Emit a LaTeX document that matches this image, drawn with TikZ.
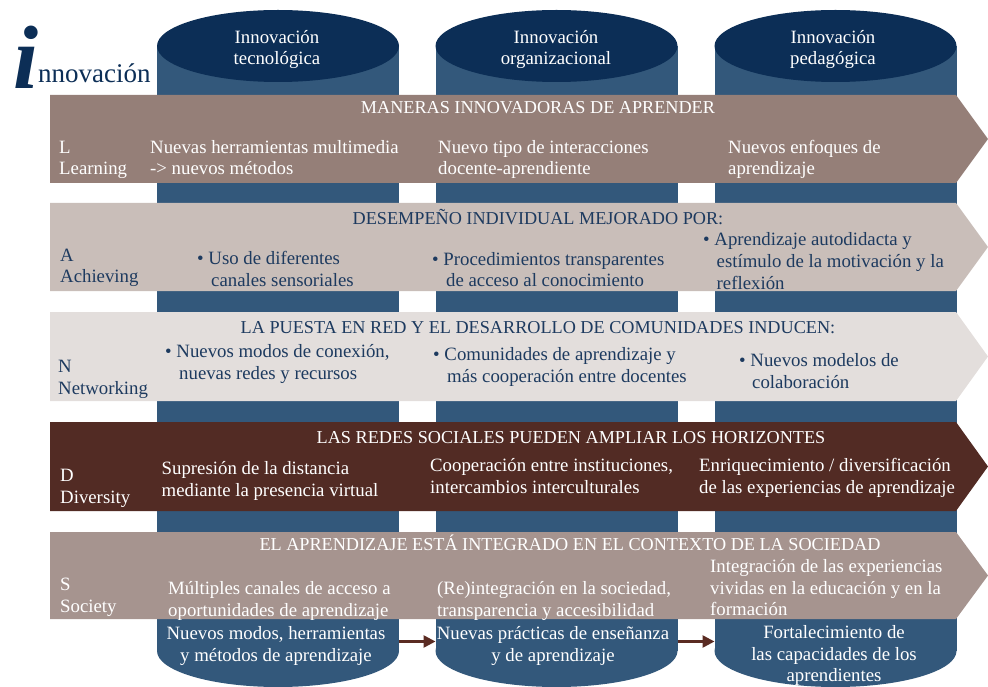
\documentclass[tikz,border=0pt]{standalone}
\usepackage{fontspec}
\setmainfont{Liberation Serif}
\usetikzlibrary{arrows.meta}
\definecolor{navy}{HTML}{0C2E56}
\definecolor{cylbody}{HTML}{33587B}
\definecolor{bandL}{HTML}{957F78}
\definecolor{bandA}{HTML}{C9BEB9}
\definecolor{bandN}{HTML}{E3DEDC}
\definecolor{bandD}{HTML}{522B24}
\definecolor{bandS}{HTML}{A6948F}
\definecolor{navytext}{HTML}{1D3A5F}
\definecolor{arrowbrown}{HTML}{5A2B22}
\newcommand\bodyfs{\fontsize{18.8}{21.8}\selectfont}
\newcommand\titlefs{\fontsize{18.2}{21.8}\selectfont}
\tikzset{
  txt/.style={inner sep=0pt, anchor=north west, align=left, font=\bodyfs},
  ctxt/.style={inner sep=0pt, anchor=north, align=center, font=\bodyfs},
  ttl/.style={inner sep=0pt, anchor=north, align=center, font=\titlefs},
  wht/.style={text=white},
  dk/.style={text=navytext},
  arr/.style={draw=arrowbrown, line width=2.6pt, -{Triangle[length=12pt,width=12pt]}},
}
\newcommand\TL[5]{\node[txt,#5] (#1) at (#2,{#3-15.26}) {\strut #4};}
\newcommand\TC[5]{\node[ctxt,#5] (#1) at (#2,{#3-15.26}) {\strut #4};}
\newcommand\TT[5]{\node[ttl,#5] (#1) at (#2,{#3-15.26}) {\strut #4};}
\newcommand\cylinder[1]{%
  \fill[cylbody] (#1-121,46) rectangle (#1+121,651);
  \fill[cylbody] (#1,651) ellipse [x radius=121, y radius=36];
  \fill[navy] (#1,46) ellipse [x radius=121, y radius=36];
}
\newcommand\band[3]{%
  \fill[#3] (50,#1) -- (956,#1) -- (988,{(#1+#2)/2}) -- (956,#2) -- (50,#2) -- cycle;
}
\begin{document}
\begin{tikzpicture}[x=1pt,y=-1pt]
\useasboundingbox (0,0) rectangle (988,687);
% cylinders
\cylinder{278}
\cylinder{556.5}
\cylinder{835.5}
% bands
\band{95}{183}{bandL}
\band{203}{291}{bandA}
\band{312}{401}{bandN}
\band{422}{511}{bandD}
\band{532}{619}{bandS}
% logo
\node[anchor=base west, inner sep=0pt, text=navy, font=\fontsize{90}{90}\selectfont\bfseries\itshape] (logoi) at (13,89) {i};
\node[anchor=base west, inner sep=0pt, text=navy, font=\fontsize{27}{27}\selectfont] (logot) at (38,83) {nnovación};
% headers
\TC{h1}{277}{43}{Innovación\\tecnológica}{wht}
\TC{h2}{556}{43}{Innovación\\organizacional}{wht}
\TC{h3}{833}{43}{Innovación\\pedagógica}{wht}
% titles
\TT{t1}{538}{113}{MANERAS INNOVADORAS DE APRENDER}{wht}
\TT{t2}{538}{224}{DESEMPEÑO INDIVIDUAL MEJORADO POR:}{dk}
\TT{t3}{538}{333}{LA PUESTA EN RED Y EL DESARROLLO DE COMUNIDADES INDUCEN:}{dk}
\TT{t4}{571}{443}{LAS REDES SOCIALES PUEDEN AMPLIAR LOS HORIZONTES}{wht}
\TT{t5}{570}{550}{EL APRENDIZAJE ESTÁ INTEGRADO EN EL CONTEXTO DE LA SOCIEDAD}{wht}
% row labels
\TL{lL}{59}{153}{L\\Learning}{wht}
\TL{lA}{60}{261}{A\\Achieving}{dk}
\TL{lN}{58}{372}{N\\Networking}{dk}
\TL{lD}{60}{481}{D\\Diversity}{wht}
\TL{lS}{60}{590}{S\\Society}{wht}
% band L
\TL{L1}{150}{153}{Nuevas herramientas multimedia\\-> nuevos métodos}{wht}
\TL{L2}{438}{153}{Nuevo tipo de interacciones\\docente-aprendiente}{wht}
\TL{L3}{728}{153}{Nuevos enfoques de\\aprendizaje}{wht}
% band A
\TL{A1}{197}{264}{• Uso de diferentes\\\hspace*{14pt}canales sensoriales}{dk}
\TL{A2}{432}{265}{• Procedimientos transparentes\\\hspace*{14pt}de acceso al conocimiento}{dk}
\TL{A3}{703}{245.5}{• Aprendizaje autodidacta y\\\hspace*{13.5pt}estímulo de la motivación y la\\\hspace*{13.5pt}reflexión}{dk}
% band N
\TL{N1}{165}{357}{• Nuevos modos de conexión,\\\hspace*{14pt}nuevas redes y recursos}{dk}
\TL{N2}{433}{360}{• Comunidades de aprendizaje y\\\hspace*{14pt}más cooperación entre docentes}{dk}
\TL{N3}{739}{366.5}{• Nuevos modelos de\\\hspace*{13pt}colaboración}{dk}
% band D
\TL{D1}{161.5}{474}{Supresión de la distancia\\mediante la presencia virtual}{wht}
\TL{D2}{430}{471}{Cooperación entre instituciones,\\intercambios interculturales}{wht}
\TL{D3}{699}{471}{Enriquecimiento / diversificación\\de las experiencias de aprendizaje}{wht}
% band S
\TL{S1}{168}{594}{Múltiples canales de acceso a\\oportunidades de aprendizaje}{wht}
\TL{S2}{437}{594}{(Re)integración en la sociedad,\\transparencia y accesibilidad}{wht}
\TL{S3}{710}{572}{Integración de las experiencias\\vividas en la educación y en la\\formación}{wht}
% bottom of cylinders
\TC{B1}{276}{639}{Nuevos modos, herramientas\\y métodos de aprendizaje}{wht}
\TC{B2}{553}{639}{Nuevas prácticas de enseñanza\\y de aprendizaje}{wht}
\TC{B3}{834}{638}{Fortalecimiento de\\las capacidades de los\\aprendientes}{wht}
% arrows
\coordinate (c1r) at (399,641.5);
\coordinate (c2l) at (435.5,641.5);
\coordinate (c2r) at (677.5,641.5);
\coordinate (c3l) at (714.5,641.5);
\draw[arr] (c1r) -- (c2l);
\draw[arr] (c2r) -- (c3l);
\end{tikzpicture}
\end{document}
